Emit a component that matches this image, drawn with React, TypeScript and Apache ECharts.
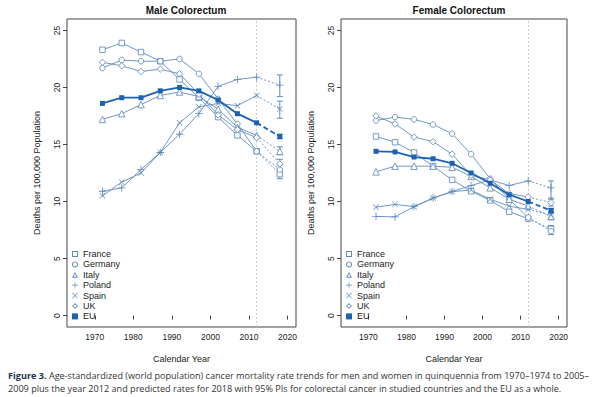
import React, { useEffect, useRef } from 'react';
import * as echarts from 'echarts';

const years = [1972, 1977, 1982, 1987, 1992, 1997, 2002, 2007, 2012];
const predYear = 2018;
const countries = ['France', 'Germany', 'Italy', 'Poland', 'Spain', 'UK', 'EU'];
const xTicks = [1970, 1980, 1990, 2000, 2010, 2020];
const yTicks = [0, 5, 10, 15, 20, 25];

// Male colorectum (deaths per 100,000)
const maleFrance = [23.3, 23.9, 23.1, 22.3, 20.7, 19.1, 17.4, 15.8, 14.4];
const maleGermany = [21.7, 22.4, 22.3, 22.3, 22.5, 21.2, 19.0, 16.8, 14.4];
const maleItaly = [17.2, 17.7, 18.5, 19.3, 19.6, 19.2, 18.1, 16.5, 15.8];
const malePoland = [10.9, 11.2, 12.8, 14.3, 15.9, 17.7, 20.1, 20.7, 20.9];
const maleSpain = [10.5, 11.7, 12.5, 14.3, 16.9, 18.3, 18.6, 18.4, 19.3];
const maleUK = [22.2, 21.9, 21.4, 21.6, 21.2, 19.4, 17.6, 16.3, 15.6];
const maleEU = [18.6, 19.1, 19.1, 19.7, 20.0, 19.7, 18.9, 17.7, 16.9];
const malePred = [12.4, 12.8, 14.4, 20.2, 18.1, 13.3, 15.7];
const malePredLow = [12.0, 12.4, 14.1, 19.2, 17.3, 12.9, 15.5];
const malePredHigh = [12.8, 13.2, 14.8, 21.1, 18.8, 13.7, 15.9];

// Female colorectum (deaths per 100,000)
const femaleFrance = [15.7, 15.2, 14.3, 13.1, 11.9, 10.9, 10.1, 9.1, 8.5];
const femaleGermany = [17.1, 17.4, 17.2, 16.75, 15.95, 14.15, 12.0, 10.2, 8.6];
const femaleItaly = [12.6, 13.1, 13.1, 13.1, 13.0, 12.2, 11.2, 10.2, 9.6];
const femalePoland = [8.7, 8.65, 9.55, 10.3, 10.87, 11.4, 11.9, 11.4, 11.8];
const femaleSpain = [9.5, 9.75, 9.55, 10.3, 10.87, 11.0, 10.2, 9.6, 9.3];
const femaleUK = [17.5, 16.8, 15.65, 15.25, 14.15, 12.3, 11.9, 10.7, 10.4];
const femaleEU = [14.4, 14.35, 13.9, 13.75, 13.35, 12.5, 11.6, 10.6, 10.0];
const femalePred = [7.6, 7.4, 8.7, 11.2, 8.8, 9.9, 9.2];
const femalePredLow = [7.3, 7.1, 8.4, 10.2, 8.5, 9.6, 9.0];
const femalePredHigh = [7.9, 7.7, 9.0, 11.8, 9.1, 10.3, 9.4];

const FONT = '"Liberation Sans", Arial, Helvetica, sans-serif';
const C = '#5f8bbd';
const CEU = '#1c62b2';
const CROSS = 'path://M4.45,0H5.55V4.45H10V5.55H5.55V10H4.45V5.55H0V4.45H4.45Z';
const XMARK = 'path://M0.8,0L5,4.2L9.2,0L10,0.8L5.8,5L10,9.2L9.2,10L5,5.8L0.8,10L0,9.2L4.2,5L0,0.8Z';
// hollow shapes are drawn as white-filled symbols with a thin coloured border
const symbols = ['rect', 'circle', 'triangle', CROSS, XMARK, 'diamond', 'rect'];
const hollow = [true, true, true, false, false, true, false];
const symbolSizes = [5.5, 5.5, 6.5, 7.5, 6, 6.5, 5];
// hollow outline icons for the legend (ring-shaped paths)
const legendIcons = [
  'path://M0,0H10V10H0Z M1.6,1.6V8.4H8.4V1.6Z',
  'path://M5,0A5,5,0,1,1,5,10A5,5,0,1,1,5,0Z M5,1.6A3.4,3.4,0,1,0,5,8.4A3.4,3.4,0,1,0,5,1.6Z',
  'path://M5,0L10,9.5H0Z M5,3.2L2.6,8H7.4Z',
  CROSS,
  XMARK,
  'path://M5,0L10,5L5,10L0,5Z M5,2.1L2.1,5L5,7.9L7.9,5Z',
  'rect',
];

function buildPanel(p: number, data: number[][], pred: number[], lo: number[], hi: number[]) {
  const series: any[] = [];
  countries.forEach((name, i) => {
    const isEU = name === 'EU';
    const col = isEU ? CEU : C;
    const itemStyle = hollow[i]
      ? { color: '#fff', borderColor: col, borderWidth: 0.85 }
      : { color: col, borderWidth: 0 };
    const hist: any = {
      type: 'line',
      name,
      xAxisIndex: p,
      yAxisIndex: p,
      data: years.map((y, j) => [y, data[i][j]]),
      symbol: symbols[i],
      symbolSize: symbolSizes[i],
      showAllSymbol: true,
      lineStyle: { color: col, width: isEU ? 1.8 : 0.9 },
      itemStyle,
      z: isEU ? 4 : 3,
    };
    if (i === 0) {
      hist.markLine = {
        silent: true,
        symbol: 'none',
        label: { show: false },
        lineStyle: { color: '#c8cdd6', type: [2, 2], width: 1 },
        data: [{ xAxis: 2012 }],
        z: 1,
      };
    }
    series.push(hist);
    series.push({
      type: 'line',
      name,
      xAxisIndex: p,
      yAxisIndex: p,
      data: [{ value: [years[years.length - 1], data[i][years.length - 1]], symbol: 'none' }, [predYear, pred[i]]],
      symbol: symbols[i],
      symbolSize: symbolSizes[i],
      showAllSymbol: true,
      lineStyle: { color: col, width: isEU ? 1.8 : 0.9, type: isEU ? [5, 3] : [2, 2] },
      itemStyle,
      z: isEU ? 4 : 3,
    });
  });
  series.push({
    type: 'custom',
    name: 'pi' + p,
    xAxisIndex: p,
    yAxisIndex: p,
    data: countries.map((_, i) => [predYear, lo[i], hi[i], i]),
    encode: { x: 0, y: [1, 2] },
    z: 2,
    renderItem: (params: any, api: any) => {
      const x = api.value(0);
      const a = api.coord([x, api.value(1)]);
      const b = api.coord([x, api.value(2)]);
      const col = api.value(3) === 6 ? CEU : C;
      const w = 3;
      const st = { stroke: col, lineWidth: 1 };
      return {
        type: 'group',
        children: [
          { type: 'line', shape: { x1: a[0], y1: a[1], x2: b[0], y2: b[1] }, style: st },
          { type: 'line', shape: { x1: a[0] - w, y1: a[1], x2: a[0] + w, y2: a[1] }, style: st },
          { type: 'line', shape: { x1: b[0] - w, y1: b[1], x2: b[0] + w, y2: b[1] }, style: st },
        ],
      };
    },
  });
  return series;
}

function axisPair(p: number) {
  const x = {
    type: 'value',
    gridIndex: p,
    min: 1962.8,
    max: 2022.2,
    name: 'Calendar Year',
    nameLocation: 'middle',
    nameGap: 27,
    nameTextStyle: { fontFamily: FONT, fontSize: 9, color: '#222' },
    axisLine: { show: false },
    splitLine: { show: false },
    axisTick: { show: true, length: 4, lineStyle: { color: '#444' }, customValues: xTicks },
    axisLabel: { fontFamily: FONT, fontSize: 8.5, color: '#222', margin: 5, customValues: xTicks, formatter: (v: number) => String(v) },
  };
  const y = {
    type: 'value',
    gridIndex: p,
    min: -1,
    max: 26,
    name: 'Deaths per 100,000 Population',
    nameLocation: 'middle',
    nameRotate: 90,
    nameGap: 26,
    nameTextStyle: { fontFamily: FONT, fontSize: 9, color: '#222' },
    axisLine: { show: false },
    splitLine: { show: false },
    axisTick: { show: true, length: 4, lineStyle: { color: '#444' }, customValues: yTicks },
    axisLabel: { fontFamily: FONT, fontSize: 8.5, color: '#222', margin: 6, rotate: 90, customValues: yTicks, formatter: (v: number) => String(v) },
  };
  return { x, y };
}

export default function App() {
  const ref = useRef<HTMLDivElement>(null);
  useEffect(() => {
    document.body.style.margin = '0';
    const chart = echarts.init(ref.current!, null, { renderer: 'svg' });
    const a0 = axisPair(0);
    const a1 = axisPair(1);
    const legendData = countries.map((n, i) => ({
      name: n,
      icon: legendIcons[i],
      itemStyle: { color: n === 'EU' ? CEU : C, borderWidth: 0 },
    }));
    const legendBase = {
      orient: 'vertical',
      top: 249,
      data: legendData,
      itemWidth: 6,
      itemHeight: 6,
      itemGap: 0.4,
      selectedMode: false,
      padding: 0,
      textStyle: { fontFamily: FONT, fontSize: 9, color: '#222', lineHeight: 10 },
    };
    chart.setOption({
      animation: false,
      backgroundColor: '#fff',
      title: [
        { text: 'Male Colorectum', left: 181, top: 0, textAlign: 'center', textStyle: { fontFamily: FONT, fontSize: 10, fontWeight: 'bold', color: '#111' } },
        { text: 'Female Colorectum', left: 454, top: 0, textAlign: 'center', textStyle: { fontFamily: FONT, fontSize: 10, fontWeight: 'bold', color: '#111' } },
      ],
      grid: [
        { left: 67, top: 19, width: 229, height: 308, show: true, borderColor: '#444', borderWidth: 1, backgroundColor: 'transparent' },
        { left: 341, top: 19, width: 226, height: 308, show: true, borderColor: '#444', borderWidth: 1, backgroundColor: 'transparent' },
      ],
      xAxis: [a0.x, a1.x],
      yAxis: [a0.y, a1.y],
      legend: [
        { ...legendBase, left: 72 },
        { ...legendBase, left: 346 },
      ],
      tooltip: { show: false },
      series: [
        ...buildPanel(0, [maleFrance, maleGermany, maleItaly, malePoland, maleSpain, maleUK, maleEU], malePred, malePredLow, malePredHigh),
        ...buildPanel(1, [femaleFrance, femaleGermany, femaleItaly, femalePoland, femaleSpain, femaleUK, femaleEU], femalePred, femalePredLow, femalePredHigh),
      ],
      graphic: [
        {
          type: 'text',
          left: 8,
          top: 371,
          style: {
            text: '{b|Figure 3.} Age-standardized (world population) cancer mortality rate trends for men and women in quinquennia from 1970–1974 to 2005–',
            fontFamily: '"Open Sans", "Noto Sans", sans-serif',
            fontSize: 9.1,
            fill: '#333',
            rich: { b: { fontFamily: '"Open Sans", "Noto Sans", sans-serif', fontSize: 9.1, fontWeight: 'bold', fill: '#1d2f55' } },
          },
        },
        {
          type: 'text',
          left: 8,
          top: 384,
          style: {
            text: '2009 plus the year 2012 and predicted rates for 2018 with 95% PIs for colorectal cancer in studied countries and the EU as a whole.',
            fontFamily: '"Open Sans", "Noto Sans", sans-serif',
            fontSize: 9.1,
            fill: '#333',
          },
        },
      ],
    });
    return () => chart.dispose();
  }, []);
  return <div ref={ref} style={{ width: 600, height: 397 }} />;
}
